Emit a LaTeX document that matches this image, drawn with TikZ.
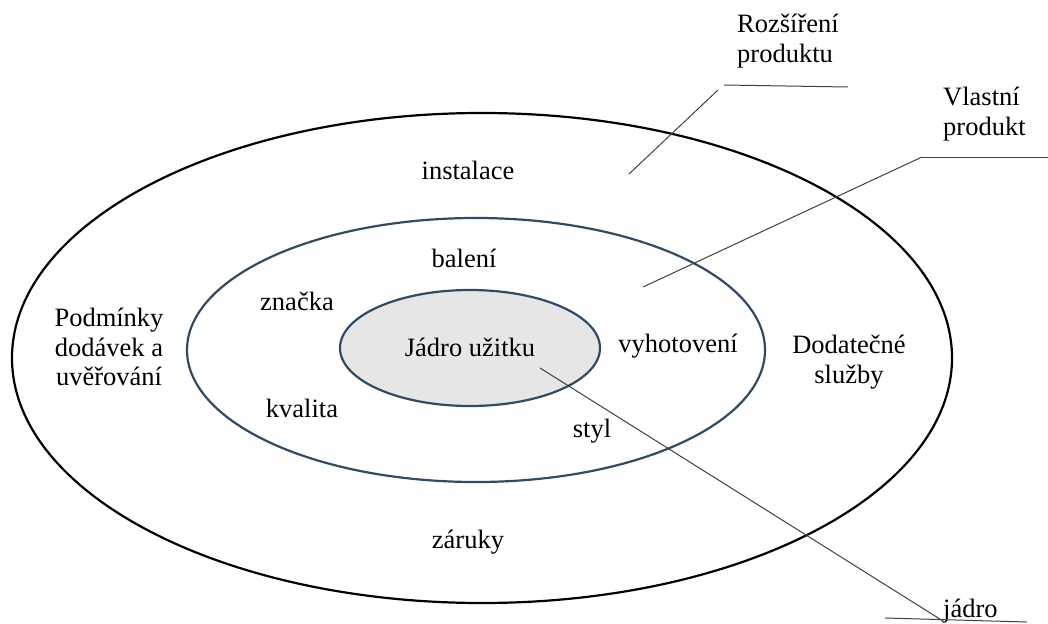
\documentclass[tikz,border=0pt]{standalone}
\usepackage{fontspec}
\setmainfont{Liberation Serif}
\definecolor{ringblue}{HTML}{2F4B68}
\definecolor{corefill}{HTML}{E6E6E6}
\begin{document}
\begin{tikzpicture}[x=1pt,y=-1pt,
  lbl/.style={font=\fontsize{26.5}{29.5}\selectfont, inner sep=0pt, align=center},
  leader/.style={draw=black!75, line width=1pt},
  ring/.style={line width=2.2pt}]
\useasboundingbox (0,0) rectangle (1048,623);
% rings
\draw[ring, draw=black] (482,358) ellipse [x radius=470, y radius=245];
\draw[ring, draw=ringblue] (476,350) ellipse [x radius=289, y radius=132];
\draw[ring, draw=ringblue, fill=corefill] (470,348) ellipse [x radius=130, y radius=58];
% labels
\node[lbl] (instal) at (468,170) {instalace};
\node[lbl] (baleni) at (464,258) {balení};
\node[lbl] (znacka) at (297,301) {značka};
\node[lbl] (podm) at (109,347) {Podmínky\\dodávek a\\uvěřování};
\node[lbl] (jadrou) at (470,347) {Jádro užitku};
\node[lbl] (vyhot) at (678,346) {vyhotovení};
\node[lbl] (dodat) at (849,362) {Dodatečné\\služby};
\node[lbl] (kval) at (302,408) {kvalita};
\node[lbl] (styl) at (592,431) {styl};
\node[lbl] (zaruky) at (468,542) {záruky};
\node[lbl, align=left, anchor=north west] (rozs) at (737,14) {Rozšíření\\produktu};
\node[lbl, align=left, anchor=north west] (vlast) at (943,87) {Vlastní\\produkt};
\node[lbl, anchor=base west] (jadro) at (943,617) {jádro};
% leader lines
\coordinate (r1) at (724,85);
\coordinate (r2) at (848,87);
\coordinate (r3) at (629,174);
\draw[leader] (r1) -- (r2);
\draw[leader] (718,90) -- (r3);
\coordinate (v1) at (922,157);
\coordinate (v2) at (1048,157);
\coordinate (v3) at (643,287);
\draw[leader] (v1) -- (v2);
\draw[leader] (v1) -- (v3);
\coordinate (j1) at (885,618);
\coordinate (j2) at (1027,622);
\coordinate (j3) at (943,621);
\coordinate (j0) at (540,368);
\draw[leader] (j1) -- (j2);
\draw[leader] (j0) -- (j3);
\end{tikzpicture}
\end{document}
